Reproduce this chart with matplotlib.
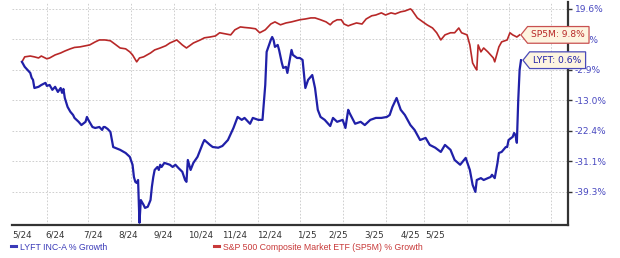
import numpy as np
import pandas as pd
import matplotlib
matplotlib.use("Agg")
import matplotlib.pyplot as plt
import matplotlib.dates as mdates
from matplotlib.path import Path
from matplotlib.lines import Line2D

# % growth since 2024-05-14, keyed by day offset
start = pd.Timestamp("2024-05-14")

sp_days = [0, 2, 6, 9, 12, 14, 16, 18, 20, 24, 28, 31, 35, 38, 42, 46, 49, 53, 56, 60,
           64, 67, 71, 75, 78, 80, 83, 85, 88, 93, 96, 100, 104, 107, 112, 116, 119, 124, 129, 132,
           136, 140, 143, 147, 151, 154, 158, 161, 165, 169, 172, 176, 180, 183, 187, 191, 195, 198, 201, 205,
           209, 212, 216, 220, 223, 225, 228, 231, 233, 236, 238, 242, 246, 249, 253, 256, 260, 263, 267, 270,
           274, 277, 281, 282, 286, 290, 293, 297, 300, 303, 306, 310, 313, 316, 318, 322, 324, 326, 328, 329,
           330, 332, 334, 337, 341, 342, 345, 347, 351, 353, 355, 358, 360]
sp_growth = [0.0, 1.8, 2.1, 1.8, 1.4, 2.1, 1.6, 1.1, 1.4, 2.5, 3.2, 3.9, 4.7, 5.2, 5.4, 5.8, 6.1, 7.2, 7.9, 7.9,
             7.6, 6.5, 5.0, 4.7, 3.6, 2.5, 0.0, 1.4, 1.8, 3.2, 4.3, 5.0, 5.8, 6.8, 7.9, 6.1, 5.0, 6.8, 7.9, 8.7,
             9.0, 9.4, 10.6, 10.2, 9.8, 11.7, 12.8, 12.6, 12.4, 12.1, 10.6, 11.7, 13.9, 14.7, 13.6, 14.3, 14.7, 15.1, 15.5, 15.8,
             16.2, 16.2, 15.5, 14.7, 13.6, 14.7, 15.5, 15.5, 13.9, 13.2, 13.6, 14.3, 13.9, 15.8, 17.0, 17.3, 18.1, 17.3, 18.1, 17.7,
             18.5, 18.8, 19.6, 19.2, 16.2, 14.7, 13.6, 12.4, 10.6, 7.9, 9.8, 10.6, 10.6, 12.4, 10.6, 9.8, 6.1, -0.4, -2.2, -2.9,
             6.1, 3.6, 5.0, 3.6, 1.4, 0.0, 5.4, 7.2, 7.9, 10.6, 9.8, 9.0, 9.8]

lyft_days = [0, 2, 4, 6, 7, 8, 9, 12, 14, 17, 18, 20, 22, 24, 26, 28, 29, 30, 31, 33,
             35, 37, 38, 41, 43, 46, 47, 48, 51, 53, 56, 58, 59, 60, 62, 64, 66, 71, 75, 78,
             80, 81, 82, 83, 84, 85, 86, 88, 89, 91, 93, 94, 95, 96, 98, 99, 100, 101, 103, 107,
             109, 111, 113, 116, 118, 119, 120, 122, 124, 127, 129, 131, 132, 136, 138, 142, 145, 149, 153, 156,
             159, 161, 165, 167, 171, 174, 176, 177, 178, 180, 181, 182, 183, 185, 186, 188, 189, 191, 192, 194,
             195, 196, 199, 201, 203, 205, 207, 210, 212, 214, 216, 219, 223, 225, 228, 232, 234, 236, 237, 241,
             245, 248, 252, 256, 260, 264, 266, 268, 271, 274, 277, 281, 284, 288, 292, 295, 299, 303, 306, 310,
             313, 317, 321, 324, 326, 328, 329, 332, 334, 337, 339, 340, 342, 344, 345, 347, 350, 351, 352, 355,
             356, 357, 358, 359, 360, 361]
lyft_growth = [0.0, -1.8, -2.9, -3.9, -5.5, -6.2, -8.9, -8.5, -7.9, -7.2, -8.2, -7.9, -9.5, -8.5, -10.2, -8.9, -10.5, -9.2, -12.2, -15.0,
               -16.5, -17.5, -18.4, -19.6, -20.6, -19.6, -18.1, -19.0, -21.2, -21.5, -21.2, -22.1, -21.2, -21.2, -21.8, -22.7, -27.0, -27.8, -28.7, -29.8,
               -32.0, -35.3, -36.6, -36.9, -36.1, -47.6, -41.5, -42.8, -43.6, -43.3, -41.5, -37.9, -35.3, -33.4, -32.6, -33.4, -32.0, -32.6, -31.5, -32.0,
               -32.6, -32.0, -32.8, -33.9, -36.1, -36.6, -30.7, -33.4, -31.5, -29.8, -27.8, -25.8, -25.0, -26.4, -27.0, -27.2, -26.7, -25.0, -21.5, -18.1,
               -19.0, -18.4, -20.2, -18.4, -19.0, -19.0, -7.9, 3.6, 5.0, 7.9, 9.0, 7.9, 5.4, 6.1, 4.3, -0.4, -2.2, -1.8, -3.9, 1.4,
               4.3, 2.5, 1.4, 1.4, 0.7, -8.9, -6.2, -4.6, -8.9, -15.9, -18.1, -19.0, -20.9, -18.4, -19.6, -19.0, -21.5, -15.9, -16.9, -20.2,
               -19.6, -20.6, -19.0, -18.4, -18.4, -18.1, -17.5, -15.0, -12.2, -15.9, -17.5, -20.6, -22.1, -25.0, -24.4, -26.4, -27.2, -28.4, -26.4, -27.8,
               -30.7, -32.0, -30.1, -33.4, -37.4, -39.3, -36.1, -35.6, -36.1, -35.6, -35.3, -34.7, -35.6, -31.5, -28.7, -28.4, -27.0, -27.0, -25.0, -24.1,
               -23.0, -23.6, -25.8, -13.0, -2.9, 0.6]

tick_vals = [-39.3, -31.1, -22.4, -13.0, -2.9, 8.1, 19.6]
x_labels = ["5/24", "6/24", "7/24", "8/24", "9/24", "10/24", "11/24", "12/24",
            "1/25", "2/25", "3/25", "4/25", "5/25"]
x_label_days = [-7, 17, 44, 70, 95, 120, 145, 170, 199, 222, 248, 274, 292]

BLUE = "#2020a8"
RED = "#b82828"

tv = np.array(tick_vals)
tp = np.arange(len(tv), dtype=float)


def fwd(v):
    v = np.asarray(v, float)
    out = np.interp(v, tv, tp)
    out = np.where(v < tv[0], (v - tv[0]) / (tv[1] - tv[0]), out)
    out = np.where(v > tv[-1], tp[-1] + (v - tv[-1]) / (tv[-1] - tv[-2]), out)
    return out


def inv(p):
    p = np.asarray(p, float)
    out = np.interp(p, tp, tv)
    out = np.where(p < 0, tv[0] + p * (tv[1] - tv[0]), out)
    out = np.where(p > tp[-1], tv[-1] + (p - tp[-1]) * (tv[-1] - tv[-2]), out)
    return out


def tag(x0, y0, width, height, mutation_size):
    # box with a pointed left side
    pad = mutation_size * 0.42
    x0, y0 = x0 - pad, y0 - pad
    w, h = width + 2 * pad, height + 2 * pad
    tip = h * 0.4
    verts = [(x0 - tip, y0 + h / 2), (x0, y0 + h), (x0 + w, y0 + h),
             (x0 + w, y0), (x0, y0), (x0 - tip, y0 + h / 2)]
    return Path(verts, closed=True)


sp_x = start + pd.to_timedelta(sp_days, unit="D")
ly_x = start + pd.to_timedelta(lyft_days, unit="D")

fig = plt.figure(figsize=(6.2, 2.58), dpi=100)
ax = fig.add_axes([12 / 620, 1 - 225 / 258, 556 / 620, 223 / 258])

ax.set_yscale("function", functions=(fwd, inv))
ax.plot(sp_x, sp_growth, color=RED, lw=1.2, zorder=3)
ax.plot(ly_x, lyft_growth, color=BLUE, lw=1.6, zorder=4)

ax.set_ylim(-48.2, 22.2)
ax.set_xlim(start - pd.Timedelta(days=7.2), start + pd.Timedelta(days=395))

ax.yaxis.tick_right()
ax.set_yticks(tick_vals)
ax.set_yticklabels([f"{v:.1f}%" for v in tick_vals])
ax.tick_params(axis="y", length=3, width=1, color="#333333", labelsize=6.5,
               labelcolor="#4848c0", pad=2)

ax.set_xticks(start + pd.to_timedelta(x_label_days, unit="D"))
ax.set_xticklabels(x_labels, ha="left")
ax.xaxis.set_minor_locator(mdates.MonthLocator())
ax.tick_params(axis="x", which="both", length=0, labelsize=6.3,
               labelcolor="#333333", pad=4)

ax.grid(False)
ax.grid(axis="x", which="minor", color="#c8c8c8", ls=(0, (2, 2)), lw=0.6)
ax.grid(axis="y", which="major", color="#c8c8c8", ls=(0, (2, 2)), lw=0.6)

for s in ["top", "left"]:
    ax.spines[s].set_visible(False)
for s in ["bottom", "right"]:
    ax.spines[s].set_color("#333333")
    ax.spines[s].set_linewidth(1.6)

ax.annotate(f"SP5M: {sp_growth[-1]:.1f}%", xy=(sp_x[-1], sp_growth[-1]),
            xytext=(8.5, 0), textcoords="offset points", ha="left", va="center",
            fontsize=6.6, color=RED, zorder=6, annotation_clip=False,
            bbox=dict(boxstyle=tag, fc="#fdf4e0", ec="#c85050", lw=0.9))
ax.annotate(f"LYFT: {lyft_growth[-1]:.1f}%", xy=(ly_x[-1], lyft_growth[-1]),
            xytext=(9, 0), textcoords="offset points", ha="left", va="center",
            fontsize=6.6, color=BLUE, zorder=6, annotation_clip=False,
            bbox=dict(boxstyle=tag, fc="#fdf4e0", ec="#4a4ab8", lw=0.9))

h1 = [Line2D([0], [0], color="#3a3ab8", lw=2.2)]
h2 = [Line2D([0], [0], color="#c83a3a", lw=2.2)]
fig.legend(h1, ["LYFT INC-A % Growth"], loc="center left",
           bbox_to_anchor=(7 / 620, 1 - 247 / 258), frameon=False, borderpad=0,
           handlelength=0.5, handletextpad=0.5, labelcolor="#3a3ab8",
           prop={"family": "Liberation Sans", "size": 6.3})
fig.legend(h2, ["S&P 500 Composite Market ETF (SP5M) % Growth"], loc="center left",
           bbox_to_anchor=(210 / 620, 1 - 247 / 258), frameon=False, borderpad=0,
           handlelength=0.5, handletextpad=0.5, labelcolor="#c83a3a",
           prop={"family": "Liberation Sans", "size": 6.3})

fig.savefig("out.png", dpi=100)
